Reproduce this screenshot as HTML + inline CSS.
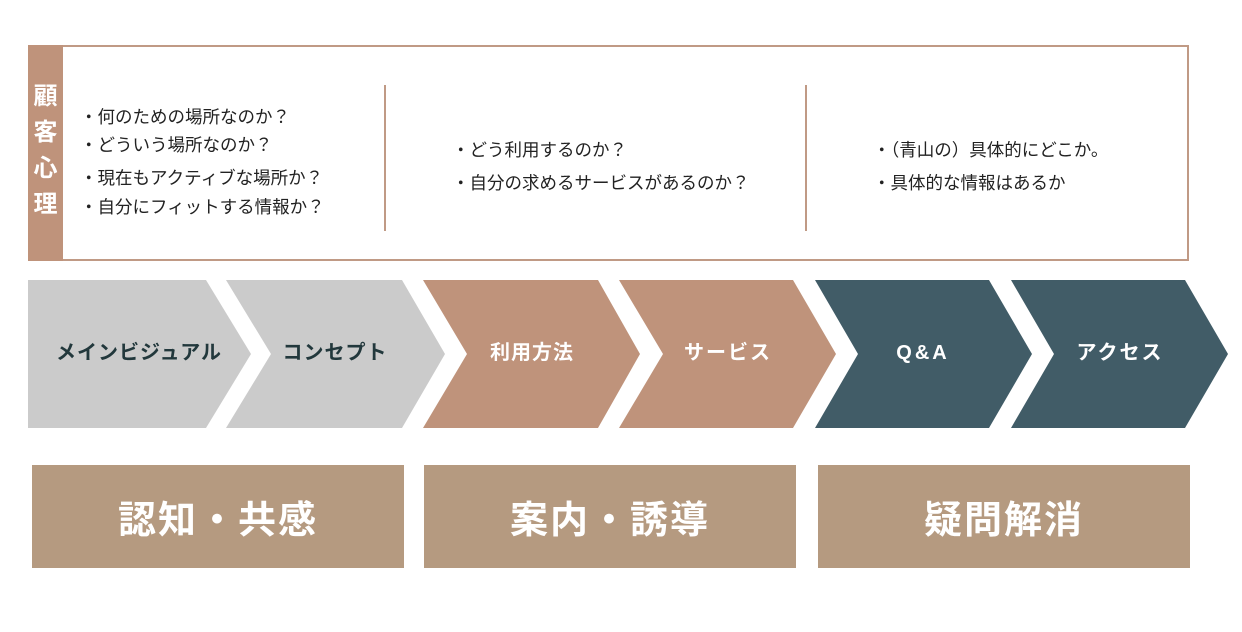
<!DOCTYPE html>
<html><head><meta charset="utf-8"><style>
body{margin:0;width:1242px;height:632px;background:#fff;position:relative;overflow:hidden;font-family:"Liberation Sans","Noto Sans CJK JP",sans-serif}
.t{position:absolute;font-size:17.5px;color:#222;white-space:nowrap;line-height:20px}
.box{position:absolute;top:465px;height:103px;width:372px;background:#b59a80;color:#fff;font-weight:bold;font-size:38px;display:flex;align-items:center;justify-content:center;letter-spacing:2px}
</style></head><body>
<div style="position:absolute;left:28px;top:45px;width:1157px;height:212px;border:2px solid #c09a85"></div>
<div style="position:absolute;left:28px;top:45px;width:35px;height:216px;background:#bf937b;color:#fff;font-size:24px;font-weight:bold;line-height:36px;text-align:center;padding-top:34px;box-sizing:border-box">顧<br>客<br>心<br>理</div>
<div style="position:absolute;left:384px;top:85px;width:2px;height:146px;background:#c09a85"></div>
<div style="position:absolute;left:805px;top:85px;width:2px;height:146px;background:#c09a85"></div>
<div class="t" style="left:80px;top:107px">・何のための場所なのか？</div>
<div class="t" style="left:80px;top:135px">・どういう場所なのか？</div>
<div class="t" style="left:80px;top:168px">・現在もアクティブな場所か？</div>
<div class="t" style="left:80px;top:197px">・自分にフィットする情報か？</div>
<div class="t" style="left:452px;top:140px">・どう利用するのか？</div>
<div class="t" style="left:452px;top:173px">・自分の求めるサービスがあるのか？</div>
<div class="t" style="left:873px;top:140px">・（青山の）具体的にどこか。</div>
<div class="t" style="left:873px;top:173px">・具体的な情報はあるか</div>
<svg style="position:absolute;left:0;top:0" width="1242" height="632">
<g font-family="Liberation Sans, Noto Sans CJK JP, sans-serif" font-weight="bold" font-size="20" text-anchor="middle">
<polygon points="28,280 206,280 251,354 206,428 28,428" fill="#cbcbcb"/>
<polygon points="226,280 402,280 445,354 402,428 226,428 271,354" fill="#cbcbcb"/>
<polygon points="423,280 598,280 640,354 598,428 423,428 467,354" fill="#bf937b"/>
<polygon points="619,280 793,280 836,354 793,428 619,428 663,354" fill="#bf937b"/>
<polygon points="815,280 989,280 1032,354 989,428 815,428 858,354" fill="#415c67"/>
<polygon points="1011,280 1185,280 1228,354 1185,428 1011,428 1054,354" fill="#415c67"/>
<text x="139" y="359" fill="#22383c" letter-spacing="1">メインビジュアル</text>
<text x="335" y="359" fill="#22383c" letter-spacing="1">コンセプト</text>
<text x="532" y="359" fill="#fff" letter-spacing="1">利用方法</text>
<text x="728" y="359" fill="#fff" letter-spacing="2">サービス</text>
<text x="923" y="359" fill="#fff" letter-spacing="3">Q&amp;A</text>
<text x="1120" y="359" fill="#fff" letter-spacing="2">アクセス</text>
</g></svg>
<div class="box" style="left:32px">認知・共感</div>
<div class="box" style="left:424px">案内・誘導</div>
<div class="box" style="left:818px">疑問解消</div>
</body></html>
